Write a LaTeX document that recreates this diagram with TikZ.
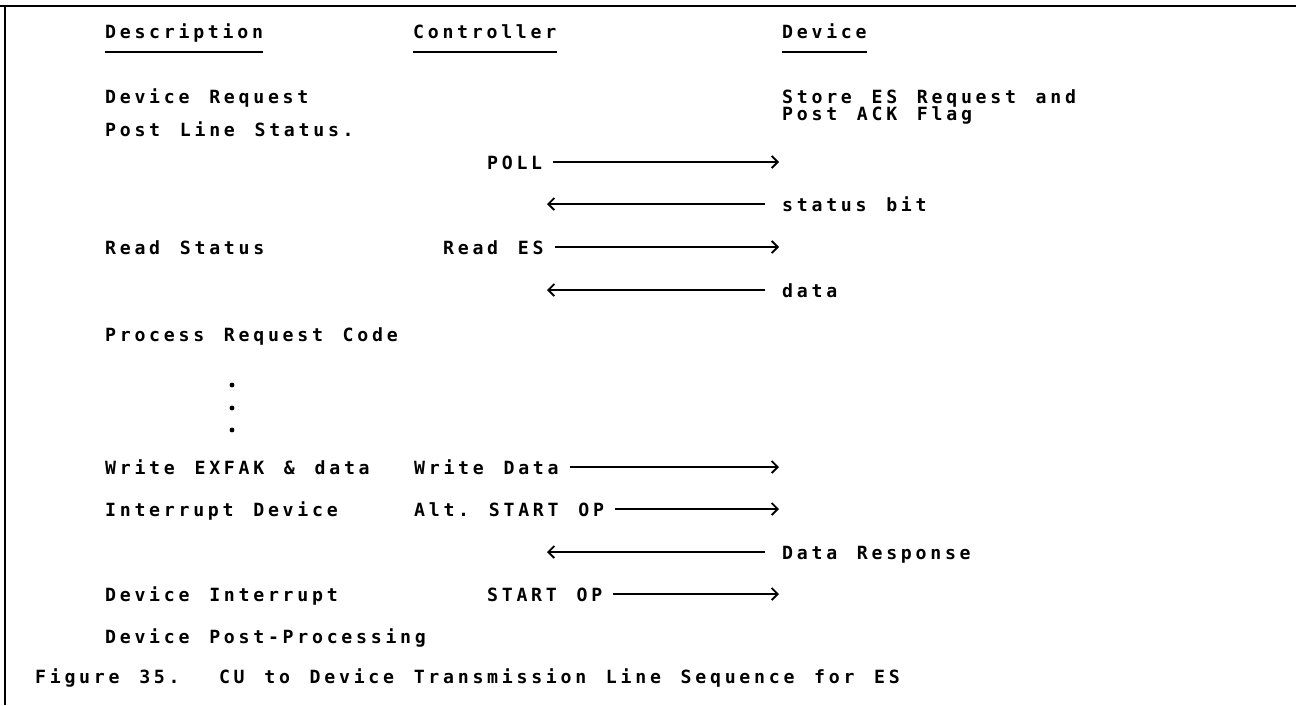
\documentclass[tikz,border=0pt]{standalone}
\usepackage{fontspec}
\usetikzlibrary{arrows.meta}
\newfontfamily\ibmfont[LetterSpace=20.5,WordSpace=1.341]{DejaVu Sans Mono}
\newcommand{\ibm}{\ibmfont\bfseries\fontsize{18.2}{18.2}\selectfont\frenchspacing}

\begin{document}
\begin{tikzpicture}[x=1pt,y=-1pt]
        \tikzstyle{every node} = [font=\ibm, anchor=base west, inner sep=0pt]
        \tikzstyle{rule} = [line width=2.2pt]
        \tikzstyle{msg} = [line width=1.8pt, -{Straight Barb[length=6pt,width=12pt]}]
            \useasboundingbox (0,0) rectangle (1296,705);
            % frame
            \draw[rule] (0,6) -- (1296,6);
            \draw[rule] (5,6) -- (5,705);

            % column heads
            \node (hdesc) at (105,38.5) {Description};
            \node (hctrl) at (413,38.5) {Controller};
            \node (hdev)  at (782,38.5) {Device};
            \coordinate (ul) at (0,52);
            \foreach \h in {hdesc,hctrl,hdev}{
                \draw[rule] (\h.west |- ul) -- (\h.east |- ul);
            }

            % description column
            \node (dreq)    at (105,103.5) {Device Request};
            \node (dpost)   at (105,136.5) {Post Line Status.};
            \node (dread)   at (105,254.5) {Read Status};
            \node (dproc)   at (105,341.5) {Process Request Code};
            \foreach \y in {385,408,430}{
                \fill (232,\y) circle (2.4);
            }
            \node (dwrite)  at (105,474.5) {Write EXFAK \& data};
            \node (dint)    at (105,516.5) {Interrupt Device};
            \node (ddevint) at (105,601.5) {Device Interrupt};
            \node (dpp)     at (105,643.5) {Device Post-Processing};

            % device column
            \node (vstore) at (782,103.5) {Store ES Request and};
            \node (vack)   at (782,120.5) {Post ACK Flag};
            \node (vstat)  at (782,211.5) {status bit};
            \node (vdata)  at (782,297.5) {data};
            \node (vresp)  at (782,559.5) {Data Response};

            % controller column
            \node (cpoll)  at (487,169.5) {POLL};
            \node (cread)  at (443,254.5) {Read ES};
            \node (cwrite) at (414,474.5) {Write Data};
            \node (calt)   at (414,516.5) {Alt. START OP};
            \node (cstart) at (487,601.5) {START OP};

            % arrow ends
            \coordinate (epoll)  at (779,162);
            \coordinate (eread)  at (779,247);
            \coordinate (ewrite) at (779,467);
            \coordinate (ealt)   at (779,509);
            \coordinate (estart) at (779,594);
            \coordinate (sstat)  at (547,204);
            \coordinate (sdata)  at (547,290);
            \coordinate (sresp)  at (547,552);

            \draw[msg, shorten <=11pt] (cpoll.east |- epoll) -- (epoll);
            \draw[msg, shorten <=11pt] (cread.east |- eread) -- (eread);
            \draw[msg, shorten <=11pt] (cwrite.east |- ewrite) -- (ewrite);
            \draw[msg, shorten <=11pt] (calt.east |- ealt) -- (ealt);
            \draw[msg, shorten <=11pt] (cstart.east |- estart) -- (estart);
            \draw[msg, shorten <=17pt] (vstat.west |- sstat) -- (sstat);
            \draw[msg, shorten <=17pt] (vdata.west |- sdata) -- (sdata);
            \draw[msg, shorten <=17pt] (vresp.west |- sresp) -- (sresp);

            % caption
            \node (cap) at (35,683) {Figure 35.\ \ CU to Device Transmission Line Sequence for ES};
\end{tikzpicture}
\end{document}
